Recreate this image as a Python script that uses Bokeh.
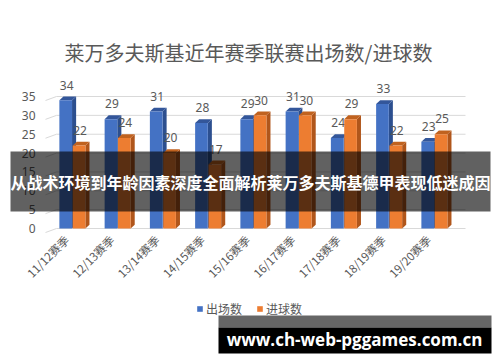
import numpy as np
from bokeh.plotting import figure
from bokeh.models import ColumnDataSource, Legend, LegendItem
from bokeh.embed import file_html
from bokeh.resources import INLINE

# ---- data ----
seasons = ["11/12赛季", "12/13赛季", "13/14赛季", "14/15赛季", "15/16赛季",
           "16/17赛季", "17/18赛季", "18/19赛季", "19/20赛季"]
appearances = [34, 29, 31, 28, 29, 31, 24, 33, 23]
goals = [22, 24, 20, 17, 30, 30, 29, 22, 25]
series_names = ["出场数", "进球数"]
y_ticks = [0, 5, 10, 15, 20, 25, 30, 35]
title_text = "莱万多夫斯基近年赛季联赛出场数/进球数"
banner_text = "从战术环境到年龄因素深度全面解析莱万多夫斯基德甲表现低迷成因"
url_text = "www.ch-web-pggames.com.cn"

CJK = "Noto Sans CJK SC"
GRAY = "#595959"

# pixel <-> data helpers (layout only)
X0, XS = 72.0, 45.25      # px of first category, px per category
Y0, YS = 228.0, 3.771     # px of value 0, px per unit


def cx(px):
    return (px - X0) / XS


def cy(py):
    return (Y0 - py) / YS


p = figure(width=500, height=362, output_backend="svg", toolbar_location=None,
           x_range=(cx(0), cx(500)), y_range=(cy(362), cy(0)),
           x_axis_location=None, y_axis_location=None,
           min_border=0, background_fill_color="white",
           border_fill_color="white", outline_line_color=None)
p.xgrid.visible = False
p.ygrid.visible = False

# title
p.text(x=[cx(248)], y=[cy(52)], text=[title_text], text_align="center",
       text_baseline="middle", text_font_size="20px", text_color=GRAY,
       text_font={"value": CJK})

# grid lines (3D wall look: short diagonal + horizontal)
yt = np.array(y_ticks, dtype=float)
p.segment(x0=[cx(45)] * len(yt), y0=yt - 4 / YS, x1=[cx(56)] * len(yt), y1=yt,
          line_color="#d9d9d9", line_width=1)
p.segment(x0=[cx(56)] * len(yt), y0=yt, x1=[cx(465)] * len(yt), y1=yt,
          line_color="#d9d9d9", line_width=1)

# y tick labels
p.text(x=[cx(35)] * len(yt), y=yt, text=[str(t) for t in y_ticks],
       text_align="right", text_baseline="middle", text_font_size="12px",
       text_color=GRAY, text_font={"value": "Noto Sans"})

# x tick labels (rotated)
idx = np.arange(len(seasons), dtype=float)
p.text(x=idx - 6 / XS, y=[cy(237)] * len(idx), text=seasons, angle=np.pi / 4,
       text_align="right", text_baseline="middle", text_font_size="11.5px",
       text_color=GRAY, text_font={"value": CJK})

# ---- 3D-style bars ----
W = 0.28
DX = 0.09
DY = 1.0
specs = [
    (appearances, -0.15, "#4472C4", "#2C4F8F", "#33569A"),
    (goals, 0.145, "#ED7D31", "#B0561B", "#C0621F"),
]
renderers = []
for vals, off, front, side, top in specs:
    v = np.array(vals, dtype=float)
    xl = idx + off - W / 2
    xr = idx + off + W / 2
    side_xs = [[a, a + DX, a + DX, a] for a in xr]
    side_ys = [[0, DY, h + DY, h] for h in v]
    p.patches(side_xs, side_ys, fill_color=side, line_color=None)
    top_xs = [[a, a + DX, b + DX, b] for a, b in zip(xl, xr)]
    top_ys = [[h, h + DY, h + DY, h] for h in v]
    p.patches(top_xs, top_ys, fill_color=top, line_color=None)
    src = ColumnDataSource(dict(x=idx + off, top=v, lx=idx + off + DX / 4,
                                ly=v + DY, t=[str(int(a)) for a in v]))
    r = p.vbar(x="x", top="top", width=W, source=src, fill_color=front,
               line_color=None)
    renderers.append(r)
    p.text(x="lx", y="ly", text="t", source=src, text_align="center",
           text_baseline="bottom", y_offset=-7, text_font_size="12px",
           text_color=GRAY, text_font={"value": "Noto Sans"})

legend = Legend(items=[LegendItem(label=series_names[0], renderers=[renderers[0]]),
                       LegendItem(label=series_names[1], renderers=[renderers[1]])],
                orientation="horizontal", location=(196, 45),
                background_fill_alpha=0, border_line_alpha=0, padding=0,
                spacing=14, glyph_width=7, glyph_height=7, label_standoff=3,
                label_text_font=CJK, label_text_font_size="12px",
                label_text_color=GRAY, margin=0)
p.add_layout(legend)

# ---- overlay banner ----
p.quad(left=[cx(10)], right=[cx(490)], top=[cy(151)], bottom=[cy(211)],
       fill_color="black", fill_alpha=0.62, line_color=None)
p.text(x=[cx(250)], y=[cy(181)], text=[banner_text], text_align="center",
       text_baseline="middle", text_color="white", text_font_size="16px",
       text_font_style="bold", text_font={"value": CJK})

# ---- url box ----
p.quad(left=[cx(218)], right=[cx(491)], top=[cy(315)], bottom=[cy(327)],
       fill_color="#666666", line_color=None)
p.quad(left=[cx(218)], right=[cx(491)], top=[cy(327)], bottom=[cy(353)],
       fill_color="black", line_color=None)
p.text(x=[cx(354)], y=[cy(339)], text=[url_text], text_align="center",
       text_baseline="middle", text_color="white", text_font_size="17px",
       text_font_style="bold", text_font={"value": "Open Sans"})

open("out.html", "w").write(file_html(p, INLINE))
